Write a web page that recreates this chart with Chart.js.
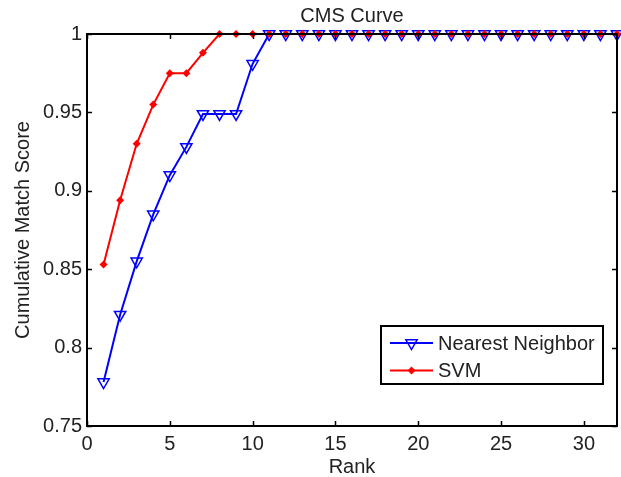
<!DOCTYPE html>
<html>
<head>
<meta charset="utf-8">
<script src="https://cdn.jsdelivr.net/npm/chart.js@4/dist/chart.umd.min.js"></script>
<style>
  html, body { margin: 0; padding: 0; background: #fff; }
  #wrap { width: 621px; height: 477px; }
</style>
</head>
<body>
<div id="wrap"><canvas id="myChart" width="621" height="477"></canvas></div>
<script>
var ranks = [1, 2, 3, 4, 5, 6, 7, 8, 9, 10, 11, 12, 13, 14, 15, 16,
             17, 18, 19, 20, 21, 22, 23, 24, 25, 26, 27, 28, 29, 30, 31, 32];
var nearestNeighbor = [0.778, 0.821, 0.855, 0.885, 0.910, 0.928, 0.949, 0.949, 0.949, 0.981, 1, 1, 1, 1, 1, 1,
                       1, 1, 1, 1, 1, 1, 1, 1, 1, 1, 1, 1, 1, 1, 1, 1];
var svm = [0.853, 0.894, 0.930, 0.955, 0.975, 0.975, 0.988, 1, 1, 1, 1, 1, 1, 1, 1, 1,
           1, 1, 1, 1, 1, 1, 1, 1, 1, 1, 1, 1, 1, 1, 1, 1];
var xTicks = [0, 5, 10, 15, 20, 25, 30];
var yTicks = [0.75, 0.8, 0.85, 0.9, 0.95, 1];

var FONT = "'Liberation Sans', Arial, Helvetica, sans-serif";
var TEXT = "#222";

function toPoints(values) {
    return values.map(function (v, i) { return { x: ranks[i], y: v }; });
}

// MATLAB style box with inward ticks on all four sides
var boxPlugin = {
    id: "box",
    afterDatasetsDraw: function (chart) {
        var c = chart.ctx, a = chart.chartArea;
        var xs = chart.scales.x, ys = chart.scales.y;
        c.save();
        c.strokeStyle = "#000";
        c.lineWidth = 2;
        c.strokeRect(a.left, a.top, a.right - a.left, a.bottom - a.top);
        c.lineWidth = 1.5;
        c.beginPath();
        xTicks.forEach(function (t) {
            var px = Math.round(xs.getPixelForValue(t)) + 0.5;
            c.moveTo(px, a.bottom); c.lineTo(px, a.bottom - 5);
            c.moveTo(px, a.top); c.lineTo(px, a.top + 5);
        });
        yTicks.forEach(function (t) {
            var py = Math.round(ys.getPixelForValue(t)) + 0.5;
            c.moveTo(a.left, py); c.lineTo(a.left + 5, py);
            c.moveTo(a.right, py); c.lineTo(a.right - 5, py);
        });
        c.stroke();
        c.restore();
    }
};

// legend box in the lower right of the plot
var legendPlugin = {
    id: "boxLegend",
    afterDraw: function (chart) {
        var c = chart.ctx, a = chart.chartArea;
        var left = a.right - 236, top = a.bottom - 100, w = 222, h = 58;
        c.save();
        c.fillStyle = "#fff";
        c.fillRect(left, top, w, h);
        c.strokeStyle = "#000";
        c.lineWidth = 2;
        c.strokeRect(left, top, w, h);
        chart.data.datasets.forEach(function (ds, i) {
            var y = top + 17 + i * 27.5;
            var x0 = left + 9, x1 = left + 52, mx = (x0 + x1) / 2;
            c.strokeStyle = ds.borderColor;
            c.lineWidth = 2;
            c.beginPath(); c.moveTo(x0, y); c.lineTo(x1, y); c.stroke();
            c.beginPath();
            if (ds.pointStyle === "triangle") {
                var r = ds.pointRadius;
                c.moveTo(mx - r * 0.866, y - r * 0.5);
                c.lineTo(mx + r * 0.866, y - r * 0.5);
                c.lineTo(mx, y + r);
                c.closePath();
                c.lineWidth = 1.5;
                c.stroke();
            } else {
                var d = ds.pointRadius;
                c.moveTo(mx, y - d); c.lineTo(mx + d, y); c.lineTo(mx, y + d); c.lineTo(mx - d, y);
                c.closePath();
                c.fillStyle = ds.borderColor;
                c.fill();
            }
            c.fillStyle = TEXT;
            c.font = "20px " + FONT;
            c.textBaseline = "middle";
            c.textAlign = "left";
            c.fillText(ds.label, left + 57, y + 1);
        });
        c.restore();
    }
};

var ctx = document.getElementById("myChart").getContext("2d");
var chart = new Chart(ctx, {
    type: "line",
    data: {
        datasets: [
            {
                label: "Nearest Neighbor",
                data: toPoints(nearestNeighbor),
                borderColor: "#0000ff",
                backgroundColor: "rgba(0,0,0,0)",
                borderWidth: 2,
                pointStyle: "triangle",
                rotation: 180,
                pointRadius: 6.5,
                pointBorderWidth: 1.5,
                pointBorderColor: "#0000ff",
                pointBackgroundColor: "rgba(0,0,0,0)",
                tension: 0,
                clip: false,
                order: 2
            },
            {
                label: "SVM",
                data: toPoints(svm),
                borderColor: "#ff0000",
                backgroundColor: "#ff0000",
                borderWidth: 2,
                pointStyle: "rectRot",
                pointRadius: 4,
                pointBorderWidth: 0,
                pointBackgroundColor: "#ff0000",
                tension: 0,
                clip: false,
                order: 1
            }
        ]
    },
    options: {
        responsive: false,
        animation: false,
        events: [],
        layout: { autoPadding: false, padding: { left: 0, right: 4, top: 0, bottom: 0 } },
        plugins: {
            legend: { display: false },
            tooltip: { enabled: false },
            title: {
                display: true,
                text: "CMS Curve",
                fullSize: false,
                color: TEXT,
                font: { family: FONT, size: 20, weight: "normal", lineHeight: 1.2 },
                padding: { top: 4, bottom: 6 }
            }
        },
        scales: {
            x: {
                type: "linear",
                min: 0,
                max: 32,
                afterFit: function (scale) { scale.height = 51; },
                afterBuildTicks: function (scale) {
                    scale.ticks = xTicks.map(function (v) { return { value: v }; });
                },
                grid: { display: false, drawTicks: false },
                border: { display: false },
                ticks: {
                    color: TEXT,
                    font: { family: FONT, size: 20 },
                    padding: 6,
                    maxRotation: 0,
                    autoSkip: false
                },
                title: {
                    display: true,
                    text: "Rank",
                    color: TEXT,
                    font: { family: FONT, size: 20, lineHeight: 1 },
                    padding: { top: 0, bottom: 0 }
                }
            },
            y: {
                min: 0.75,
                max: 1,
                afterFit: function (scale) { scale.width = 87; },
                afterBuildTicks: function (scale) {
                    scale.ticks = yTicks.map(function (v) { return { value: v }; });
                },
                grid: { display: false, drawTicks: false },
                border: { display: false },
                ticks: {
                    color: TEXT,
                    font: { family: FONT, size: 20 },
                    padding: 5,
                    autoSkip: false,
                    callback: function (v) { return String(Number(v.toFixed(2))); }
                },
                title: {
                    display: true,
                    text: "Cumulative Match Score",
                    color: TEXT,
                    font: { family: FONT, size: 20, lineHeight: 1.2 },
                    padding: { top: 11, bottom: 0 }
                }
            }
        }
    },
    plugins: [boxPlugin, legendPlugin]
});
</script>
</body>
</html>
